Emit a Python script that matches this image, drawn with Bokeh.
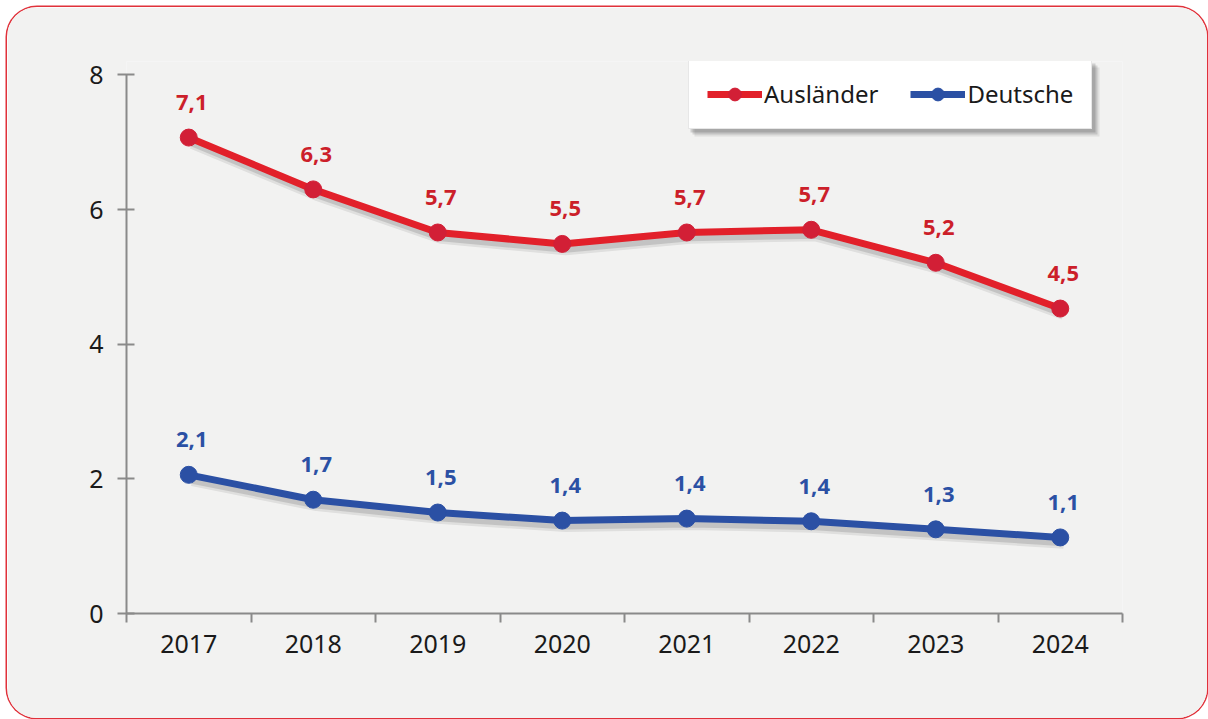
from bokeh.plotting import figure
from bokeh.models import (FixedTicker, Range1d, ColumnDataSource, Legend, LegendItem,
                          LinearAxis, BoxAnnotation)
from bokeh.core.properties import value
from bokeh.embed import file_html
from bokeh.resources import INLINE

years = ["2017", "2018", "2019", "2020", "2021", "2022", "2023", "2024"]
auslaender = [7.07, 6.3, 5.66, 5.49, 5.66, 5.7, 5.21, 4.53]
auslaender_labels = ["7,1", "6,3", "5,7", "5,5", "5,7", "5,7", "5,2", "4,5"]
deutsche = [2.06, 1.69, 1.5, 1.38, 1.41, 1.37, 1.25, 1.13]
deutsche_labels = ["2,1", "1,7", "1,5", "1,4", "1,4", "1,4", "1,3", "1,1"]
y_ticks = [0, 2, 4, 6, 8]

RED_LINE = "#e2202a"
RED_DOT = "#d21f36"
BLUE = "#2b50a4"
FONT = "Noto Sans"

xpos = [i + 0.5 for i in range(len(years))]

W, H = 1200, 711
OX, OY = 7, 7
YTOP = 8.2
p = figure(width=W, height=H, output_backend="svg", toolbar_location=None,
           x_range=Range1d(0, len(years)), y_range=Range1d(0, YTOP),
           min_border_left=126 - OX, min_border_right=(OX + W) - 1122,
           min_border_top=61 - OY, min_border_bottom=(OY + H) - 613,
           background_fill_color="#f2f2f1", border_fill_color="#f2f2f1",
           outline_line_color=None, x_axis_type=None, y_axis_type=None)
p.margin = (OY, 0, 0, OX)
p.styles = {"border-radius": "30px", "overflow": "hidden",
            "box-shadow": "0 0 0 1.5px #e0313a"}
p.grid.visible = False

# shadow ranges (shift drawing down/right by a few pixels)
p.extra_x_ranges = {"sh": Range1d(0 - 0.028, len(years) - 0.028)}
p.extra_y_ranges = {"sh": Range1d(0 + 0.08, YTOP + 0.08)}

# axes
xax = LinearAxis(ticker=FixedTicker(ticks=xpos, minor_ticks=list(range(len(years) + 1))),
                 major_label_overrides={x: y for x, y in zip(xpos, years)})
xax.axis_line_color = "#8a8a8a"
xax.axis_line_width = 2
xax.major_tick_line_color = None
xax.major_tick_out = 0
xax.major_tick_in = 0
xax.minor_tick_line_color = "#8a8a8a"
xax.minor_tick_line_width = 2
xax.minor_tick_out = 9
xax.minor_tick_in = 0
xax.major_label_standoff = 12
xax.major_label_text_font = FONT
xax.major_label_text_font_size = "25px"
xax.major_label_text_color = "#1a1a1a"
p.add_layout(xax, "below")

yax = LinearAxis(ticker=FixedTicker(ticks=y_ticks, minor_ticks=[]), bounds=(0, 8))
yax.axis_line_color = "#8a8a8a"
yax.axis_line_width = 2
yax.major_tick_line_color = "#8a8a8a"
yax.major_tick_line_width = 2
yax.major_tick_out = 9
yax.major_tick_in = 8
yax.minor_tick_line_color = None
yax.major_label_standoff = 14
yax.major_label_text_font = FONT
yax.major_label_text_font_size = "25px"
yax.major_label_text_color = "#1a1a1a"
p.add_layout(yax, "left")

src = ColumnDataSource(dict(x=xpos, a=auslaender, al=auslaender_labels,
                            d=deutsche, dl=deutsche_labels))

# shadows
for col in ["a", "d"]:
    p.line("x", col, source=src, x_range_name="sh", y_range_name="sh",
           line_color="#000000", line_alpha=0.08, line_width=12)
    p.line("x", col, source=src, x_range_name="sh", y_range_name="sh",
           line_color="#000000", line_alpha=0.12, line_width=7)

ra = p.line("x", "a", source=src, line_color=RED_LINE, line_width=7)
rac = p.scatter("x", "a", source=src, size=17, fill_color=RED_DOT, line_color=RED_DOT)
rd = p.line("x", "d", source=src, line_color=BLUE, line_width=7)
rdc = p.scatter("x", "d", source=src, size=17, fill_color=BLUE, line_color=BLUE)

p.text("x", "a", text="al", source=src, y_offset=-35, x_offset=3,
       text_align="center", text_baseline="middle",
       text_font=value(FONT), text_font_style="bold",
       text_font_size="22px", text_color="#cc1f2a")
p.text("x", "d", text="dl", source=src, y_offset=-35, x_offset=3,
       text_align="center", text_baseline="middle",
       text_font=value(FONT), text_font_style="bold",
       text_font_size="22px", text_color=BLUE)

# soft shadow behind the legend box (screen units, relative to the frame, y up)
for d, a in [(6, 0.08), (4, 0.12), (2, 0.14)]:
    p.add_layout(BoxAnnotation(left=562 + d, right=967 + d, top=552 - d, bottom=483 - d,
                               left_units="screen", right_units="screen",
                               top_units="screen", bottom_units="screen",
                               fill_color="#000000", fill_alpha=a, line_color=None,
                               editable=False))

legend = Legend(items=[LegendItem(label="Ausländer", renderers=[ra, rac]),
                       LegendItem(label="Deutsche", renderers=[rd, rdc])],
                orientation="horizontal", location=(562, 484))
legend.glyph_width = 55
legend.glyph_height = 32
legend.label_standoff = 2
legend.spacing = 32
legend.padding = 18
legend.margin = 0
legend.label_text_font = FONT
legend.label_text_font_size = "24px"
legend.label_text_color = "#1a1a1a"
legend.background_fill_color = "#ffffff"
legend.background_fill_alpha = 1
legend.border_line_color = "#d0d0d0"
legend.border_line_width = 1
p.add_layout(legend, "center")

open("out.html", "w").write(file_html(p, INLINE))
